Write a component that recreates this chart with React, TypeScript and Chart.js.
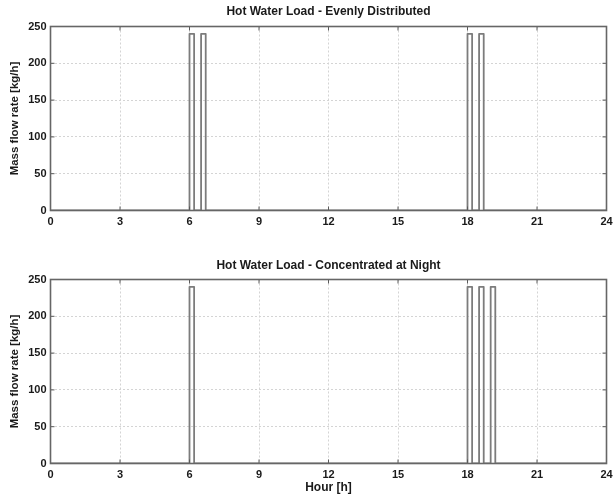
import React, { useEffect, useRef } from "react";
import { Chart, registerables } from "chart.js";

Chart.register(...registerables);

// ---- Data ----
const xTickValues = [0, 3, 6, 9, 12, 15, 18, 21, 24];
const yTickValues = [0, 50, 100, 150, 200, 250];

const evenTitle = "Hot Water Load - Evenly Distributed";
const evenStarts = [6.0, 6.5, 18.0, 18.5];
const evenEnds = [6.2, 6.7, 18.2, 18.7];
const evenFlow = [240, 240, 240, 240];

const nightTitle = "Hot Water Load - Concentrated at Night";
const nightStarts = [6.0, 18.0, 18.5, 19.0];
const nightEnds = [6.2, 18.2, 18.7, 19.2];
const nightFlow = [240, 240, 240, 240];

const yLabel = "Mass flow rate [kg/h]";
const xLabel = "Hour [h]";

function buildSteps(starts: number[], ends: number[], flows: number[]) {
  const pts: { x: number; y: number }[] = [{ x: xTickValues[0], y: 0 }];
  starts.forEach((s, i) => {
    pts.push({ x: s, y: 0 });
    pts.push({ x: s, y: flows[i] });
    pts.push({ x: ends[i], y: flows[i] });
    pts.push({ x: ends[i], y: 0 });
  });
  pts.push({ x: xTickValues[xTickValues.length - 1], y: 0 });
  return pts;
}

const FONT = "'Liberation Sans', Arial, sans-serif";

const boxPlugin = {
  id: "matlabBox",
  afterDraw(chart: any) {
    const { ctx, chartArea } = chart;
    const { left, right, top, bottom } = chartArea;
    const xs = chart.scales.x;
    const ys = chart.scales.y;
    ctx.save();
    ctx.strokeStyle = "#5a5a5a";
    ctx.lineWidth = 1;
    const tl = 4;
    ctx.beginPath();
    xTickValues.forEach((v) => {
      const px = xs.getPixelForValue(v);
      ctx.moveTo(px, bottom);
      ctx.lineTo(px, bottom - tl);
      ctx.moveTo(px, top);
      ctx.lineTo(px, top + tl);
    });
    yTickValues.forEach((v) => {
      const py = ys.getPixelForValue(v);
      ctx.moveTo(left, py);
      ctx.lineTo(left + tl, py);
      ctx.moveTo(right, py);
      ctx.lineTo(right - tl, py);
    });
    ctx.stroke();
    ctx.lineWidth = 1.6;
    ctx.strokeStyle = "#666666";
    ctx.strokeRect(left, top, right - left, bottom - top);
    ctx.restore();
  },
};

interface PanelProps {
  title: string;
  starts: number[];
  ends: number[];
  flows: number[];
  height: number;
  titlePad: { top: number; bottom: number };
  xAxisHeight: number;
  showXTitle: boolean;
}

function Panel(props: PanelProps) {
  const ref = useRef<HTMLCanvasElement | null>(null);
  useEffect(() => {
    if (!ref.current) return;
    const chart = new Chart(ref.current, {
      type: "line",
      data: {
        datasets: [
          {
            data: buildSteps(props.starts, props.ends, props.flows),
            borderColor: "#7c7c7c",
            borderWidth: 1.8,
            pointRadius: 0,
            fill: false,
            tension: 0,
            borderJoinStyle: "round",
          } as any,
        ],
      },
      options: {
        animation: false,
        responsive: false,
        maintainAspectRatio: false,
        layout: { padding: { left: 0, right: 7.5, top: 0, bottom: 0 } },
        plugins: {
          legend: { display: false },
          tooltip: { enabled: false },
          title: {
            display: true,
            fullSize: false,
            text: props.title,
            color: "#1a1a1a",
            font: { family: FONT, size: 12, weight: "bold" },
            padding: props.titlePad,
          },
        },
        scales: {
          x: {
            type: "linear",
            min: 0,
            max: 24,
            afterBuildTicks: (s: any) => {
              s.ticks = xTickValues.map((v) => ({ value: v }));
            },
            afterFit: (s: any) => {
              s.height = props.xAxisHeight;
              s.paddingLeft = 0;
              s.paddingRight = 0;
            },
            ticks: {
              color: "#1a1a1a",
              font: { family: FONT, size: 11, weight: "bold" },
              padding: 5,
              maxRotation: 0,
              autoSkip: false,
            },
            grid: {
              color: "#d4d4d4",
              lineWidth: 1,
              drawTicks: false,
            },
            border: { display: false, dash: [2, 2] },
            title: {
              display: props.showXTitle,
              text: xLabel,
              color: "#1a1a1a",
              font: { family: FONT, size: 12, weight: "bold" },
              padding: { top: 0, bottom: 3.8 },
            },
          },
          y: {
            type: "linear",
            min: 0,
            max: 250,
            afterBuildTicks: (s: any) => {
              s.ticks = yTickValues.map((v) => ({ value: v }));
            },
            afterFit: (s: any) => {
              s.width = 50.5;
              s.paddingTop = 0;
              s.paddingBottom = 0;
            },
            ticks: {
              color: "#1a1a1a",
              font: { family: FONT, size: 11, weight: "bold" },
              padding: 4,
            },
            grid: {
              color: "#d4d4d4",
              lineWidth: 1,
              drawTicks: false,
            },
            border: { display: false, dash: [2, 2] },
            title: {
              display: true,
              text: yLabel,
              color: "#1a1a1a",
              font: { family: FONT, size: 11.5, weight: "bold" },
              padding: { top: 8.1, bottom: 0 },
            },
          },
        },
      },
      plugins: [boxPlugin],
    });
    return () => chart.destroy();
  }, []);
  return (
    <canvas
      ref={ref}
      width={614}
      height={props.height}
      style={{ display: "block", width: 614, height: props.height }}
    />
  );
}

export default function App() {
  return (
    <div
      style={{
        position: "absolute",
        left: 0,
        top: 0,
        width: 614,
        height: 499,
        background: "#ffffff",
      }}
    >
      <Panel
        title={evenTitle}
        starts={evenStarts}
        ends={evenEnds}
        flows={evenFlow}
        height={250}
        titlePad={{ top: 4.8, bottom: 7.3 }}
        xAxisHeight={39.5}
        showXTitle={false}
      />
      <Panel
        title={nightTitle}
        starts={nightStarts}
        ends={nightEnds}
        flows={nightFlow}
        height={249}
        titlePad={{ top: 8.8, bottom: 6.3 }}
        xAxisHeight={35.5}
        showXTitle={true}
      />
    </div>
  );
}
